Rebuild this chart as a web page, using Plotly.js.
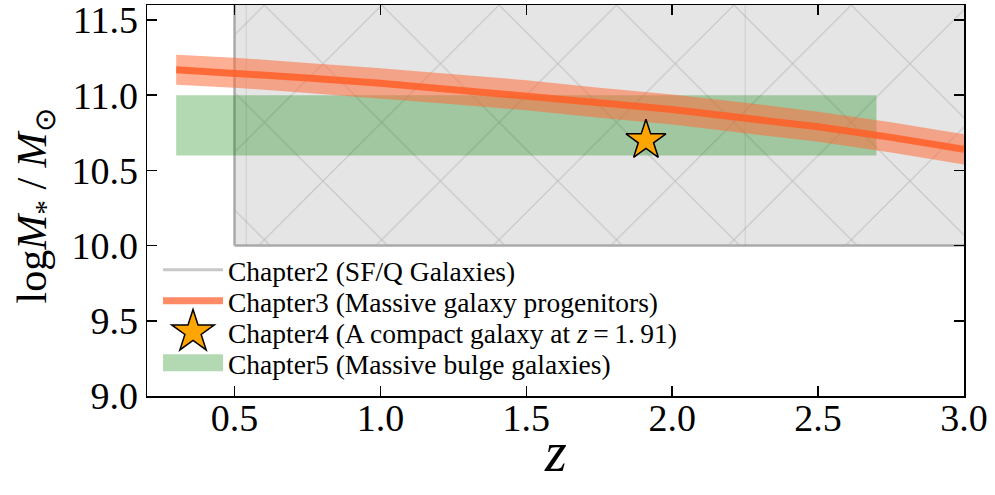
<!DOCTYPE html>
<html>
<head>
<meta charset="utf-8">
<script src="https://cdn.plot.ly/plotly-3.0.1.min.js"></script>
<style>
  html, body { margin: 0; padding: 0; background: #ffffff; }
  #chart { width: 995px; height: 495px; }
</style>
</head>
<body>
<div id="chart"></div>
<script>
// Chapter 2: redshift / stellar-mass window of the SF/Q galaxy sample
const ch2Z = [0.5, 3.5];
const ch2Mass = [10.0, 12.0];
const ch2BinEdges = [0.54, 2.25];

// Chapter 3: massive galaxy progenitor track with its uncertainty band
const ch3Z     = [0.3, 0.5, 0.75, 1.0, 1.25, 1.5, 1.75, 2.0, 2.25, 2.5, 2.75, 3.0];
const ch3Mass  = [11.17, 11.15, 11.115, 11.08, 11.04, 11.0, 10.95, 10.905, 10.85, 10.79, 10.72, 10.64];
const ch3Upper = [11.27, 11.25, 11.215, 11.18, 11.14, 11.1, 11.05, 11.005, 10.95, 10.89, 10.82, 10.74];
const ch3Lower = [11.07, 11.05, 11.015, 10.98, 10.94, 10.9, 10.85, 10.805, 10.75, 10.69, 10.62, 10.54];

// Chapter 4: a single compact galaxy
const ch4Z = [1.91];
const ch4Mass = [10.7];

// Chapter 5: massive bulge galaxies window
const ch5Z = [0.3, 2.7];
const ch5Mass = [10.6, 11.0];

const legendNames = [
  'Chapter2 (SF/Q Galaxies)',
  'Chapter3 (Massive galaxy progenitors)',
  'Chapter4 (A compact galaxy at <i>z</i>\u2009=\u20091.\u200991)',
  'Chapter5 (Massive bulge galaxies)'
];

const xTitle = '<i>z</i>';
const yTitle = 'log<i>M</i><sub>*</sub> / <i>M</i><sub>⊙</sub>';

const xTicks = [0.5, 1.0, 1.5, 2.0, 2.5, 3.0];
const yTicks = [9.0, 9.5, 10.0, 10.5, 11.0, 11.5];

// closed rectangle outline from two ranges
function box(xr, yr) {
  return {
    x: [xr[0], xr[1], xr[1], xr[0], xr[0]],
    y: [yr[0], yr[0], yr[1], yr[1], yr[0]]
  };
}

const serif = 'Liberation Serif, Times New Roman, serif';
const noLegend = { showlegend: false, hoverinfo: 'skip' };

const ch2Box = box(ch2Z, ch2Mass);
const ch5Box = box(ch5Z, ch5Mass);

// vertical bin boundaries inside the chapter-2 window
const binX = [], binY = [];
ch2BinEdges.forEach(e => { binX.push(e, e, null); binY.push(ch2Mass[0], ch2Mass[1], null); });

const traces = [
  Object.assign({
    type: 'scatter', mode: 'lines', x: ch2Box.x, y: ch2Box.y,
    fill: 'toself', fillcolor: '#e5e5e5',
    fillpattern: { shape: 'x', bgcolor: '#e5e5e5', fgcolor: '#c2c2c2', size: 83, solidity: 0.025 },
    line: { color: '#aaaaaa', width: 2.5 }
  }, noLegend),
  Object.assign({
    type: 'scatter', mode: 'lines', x: binX, y: binY,
    line: { color: 'rgba(0,0,0,0.1)', width: 1 }
  }, noLegend),
  Object.assign({
    type: 'scatter', mode: 'lines', x: ch5Box.x, y: ch5Box.y,
    fill: 'toself', fillcolor: 'rgba(0,128,0,0.3)', line: { width: 0 }
  }, noLegend),
  Object.assign({
    type: 'scatter', mode: 'lines',
    x: ch3Z.concat(ch3Z.slice().reverse()),
    y: ch3Upper.concat(ch3Lower.slice().reverse()),
    fill: 'toself', fillcolor: 'rgba(255,110,60,0.55)', line: { width: 0 }
  }, noLegend),
  Object.assign({
    type: 'scatter', mode: 'lines', x: ch3Z, y: ch3Mass,
    line: { color: 'rgba(255,95,40,0.85)', width: 7 }
  }, noLegend),
  // legend entries
  { type: 'scatter', mode: 'lines', x: [null], y: [null], name: legendNames[0], legendrank: 1,
    line: { color: '#c8c8c8', width: 3 }, hoverinfo: 'skip' },
  { type: 'scatter', mode: 'lines', x: [null], y: [null], name: legendNames[1], legendrank: 2,
    line: { color: '#ff8a66', width: 7 }, hoverinfo: 'skip' },
  { type: 'scatter', mode: 'lines', x: [null], y: [null], name: legendNames[3], legendrank: 4,
    line: { color: 'rgba(0,128,0,0.3)', width: 17 }, hoverinfo: 'skip' },
  // the compact galaxy itself
  { type: 'scatter', mode: 'markers', x: ch4Z, y: ch4Mass, name: legendNames[2], legendrank: 3,
    marker: { symbol: 'star', size: 30, color: '#ffa500', line: { color: '#000000', width: 1.5 } } }
];

const axisCommon = {
  showline: true, linecolor: '#000000', linewidth: 1.5, mirror: 'ticks',
  ticks: 'inside', ticklen: 10, tickwidth: 1.5, tickcolor: '#000000',
  showgrid: false, zeroline: false, tickformat: '.1f', ticklabeloverflow: 'allow',
  tickfont: { family: serif, size: 38, color: '#000000' }
};

const layout = {
  width: 995, height: 495,
  margin: { l: 147, r: 31, t: 5, b: 99 },
  paper_bgcolor: '#ffffff', plot_bgcolor: '#ffffff',
  showlegend: true,
  legend: {
    x: 0.0135, xanchor: 'left', y: 0.385, yanchor: 'top',
    bgcolor: 'rgba(0,0,0,0)', borderwidth: 0,
    itemwidth: 60, tracegroupgap: 0,
    font: { family: serif, size: 27.5, color: '#000000' }
  },
  xaxis: Object.assign({}, axisCommon, {
    range: [0.2, 3.0], tickvals: xTicks, ticklabelstandoff: -12
  }),
  yaxis: Object.assign({}, axisCommon, {
    range: [9.0, 11.6], tickvals: yTicks, ticklabelstandoff: 0
  }),
  annotations: [
    { text: xTitle, xref: 'paper', yref: 'paper', x: 0.5, y: -0.143,
      xanchor: 'center', yanchor: 'middle', showarrow: false,
      font: { family: serif, size: 56, color: '#000000' } },
    { text: yTitle, xref: 'paper', yref: 'paper', x: -0.137, y: 0.485,
      xanchor: 'center', yanchor: 'middle', textangle: -90, showarrow: false,
      font: { family: serif, size: 42, color: '#000000' } }
  ]
};

Plotly.newPlot('chart', traces, layout, { displayModeBar: false, staticPlot: true }).then(gd => {
  // tighter legend rows
  const rows = Array.from(gd.querySelectorAll('.legend .traces'));
  const parse = el => {
    const m = /translate\(\s*([-\d.]+)[ ,]+([-\d.]+)/.exec(el.getAttribute('transform') || '');
    return m ? [parseFloat(m[1]), parseFloat(m[2])] : [0, 0];
  };
  rows.sort((a, b) => parse(a)[1] - parse(b)[1]);
  if (rows.length) {
    const y0 = parse(rows[0])[1];
    rows.forEach((r, i) => {
      const p = parse(r);
      r.setAttribute('transform', 'translate(' + p[0] + ',' + (y0 + i * 31) + ')');
    });
  }
  // legend line widths as specified on each entry
  gd.querySelectorAll('.legend .traces').forEach(r => {
    const d = r.__data__ && r.__data__[0] && r.__data__[0].trace;
    const path = r.querySelector('.legendlines path');
    if (d && path && d.line && d.line.width) path.style.strokeWidth = d.line.width + 'px';
  });
  // enlarge the legend star so it matches the plotted marker
  gd.querySelectorAll('.legend .legendpoints path.scatterpts').forEach(p => {
    const t = p.getAttribute('transform') || '';
    p.setAttribute('transform', t + ' scale(2)');
    p.style.strokeWidth = '0.75px';
  });
});
</script>
</body>
</html>
